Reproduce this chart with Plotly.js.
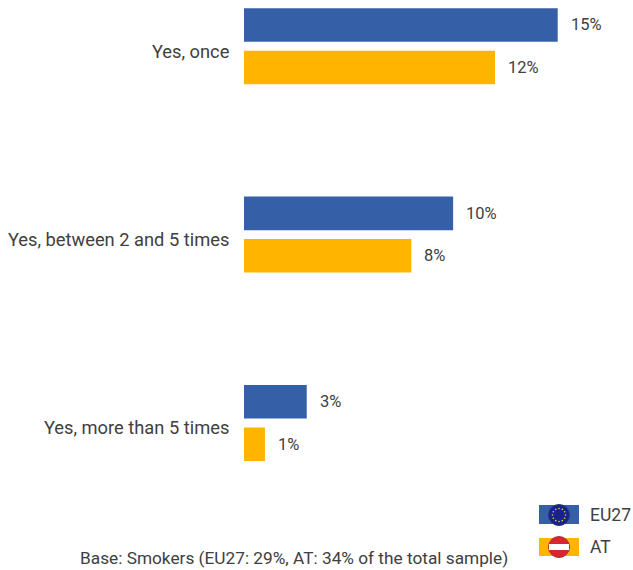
<!DOCTYPE html>
<html><head><meta charset="utf-8">
<script src="https://cdn.plot.ly/plotly-3.0.1.min.js"></script>
<style>html,body{margin:0;padding:0;background:#fff}</style></head>
<body><div id="c" style="width:633px;height:570px"></div>
<script>
const categories=["Yes, once","Yes, between 2 and 5 times","Yes, more than 5 times"];
const eu27=[15,10,3];
const at=[12,8,1];
const seriesNames=["EU27","AT"];
const baseNote="Base: Smokers (EU27: 29%, AT: 34% of the total sample)";
const W=633,H=570,L=244;
const fam="Roboto, 'Liberation Sans', Arial, sans-serif", ink="#404040";
const font={family:fam,size:18.3,color:ink};
const valFont={family:fam,size:16.5,color:ink};
const legFont={family:fam,size:17.5,color:ink};
const noteFont={family:fam,size:17.25,color:ink};
const BLUE="#3560A8",AMBER="#FFB400";
function tr(name,x,color){return {type:"bar",orientation:"h",name:name,y:categories,x:x,marker:{color:color},showlegend:false};}
function lab(vals,slot){return vals.map((v,i)=>({xref:"x",yref:"paper",x:v,y:1-(46.2+188.5*i+slot*21.25)/H,xanchor:"left",yanchor:"middle",xshift:11,showarrow:false,text:v+"%",font:valFont}));}
const px=x=>(x-L)/(W-L), py=y=>1-y/H;
function rect(x0,y0,x1,y1,c){return {type:"rect",xref:"paper",yref:"paper",x0:px(x0),x1:px(x1),y0:py(y0),y1:py(y1),fillcolor:c,line:{width:0},layer:"above"};}
function circ(cx,cy,r,c,lc){return {type:"circle",xref:"paper",yref:"paper",x0:px(cx-r),x1:px(cx+r),y0:py(cy+r),y1:py(cy-r),fillcolor:c,line:{width:lc?1:0,color:lc||c},layer:"above"};}
const shapes=[rect(539,505,579,524,BLUE),circ(559,515,10.5,"#17238C","#27347f"),rect(539,538,579,556,AMBER),circ(559,547,10.5,"#D8262C","#a33"),rect(549,544,569,550,"#FFFFFF")];
for(let k=0;k<12;k++){const a=k*Math.PI/6;shapes.push(circ(559+6.5*Math.cos(a),515+6.5*Math.sin(a),0.8,"#F2D21C"));}
function leg(t,y){return {xref:"paper",yref:"paper",x:px(588),y:py(y),xanchor:"left",yanchor:"middle",showarrow:false,text:t,font:legFont};}
Plotly.newPlot("c",[tr(seriesNames[0],eu27,BLUE),tr(seriesNames[1],at,AMBER)],{
 width:W,height:H,margin:{l:L,r:0,t:0,b:0},paper_bgcolor:"#fff",plot_bgcolor:"#fff",
 barmode:"group",bargap:0.549,bargroupgap:0.21,font:font,
 xaxis:{range:[0,18.6],visible:false,domain:[0,1]},
 yaxis:{range:[2.78,-0.245],domain:[0,1],showline:false,ticks:"outside",ticklen:10,tickcolor:"rgba(0,0,0,0)",ticklabelshift:-5,tickfont:font,showgrid:false,automargin:false},
 annotations:[...lab(eu27,-1),...lab(at,1),leg(seriesNames[0],515),leg(seriesNames[1],547),
  {xref:"paper",yref:"paper",x:px(294),y:py(558),xanchor:"center",yanchor:"middle",showarrow:false,text:baseNote,font:noteFont}],
 shapes:shapes
},{displayModeBar:false,staticPlot:true});
</script></body></html>
